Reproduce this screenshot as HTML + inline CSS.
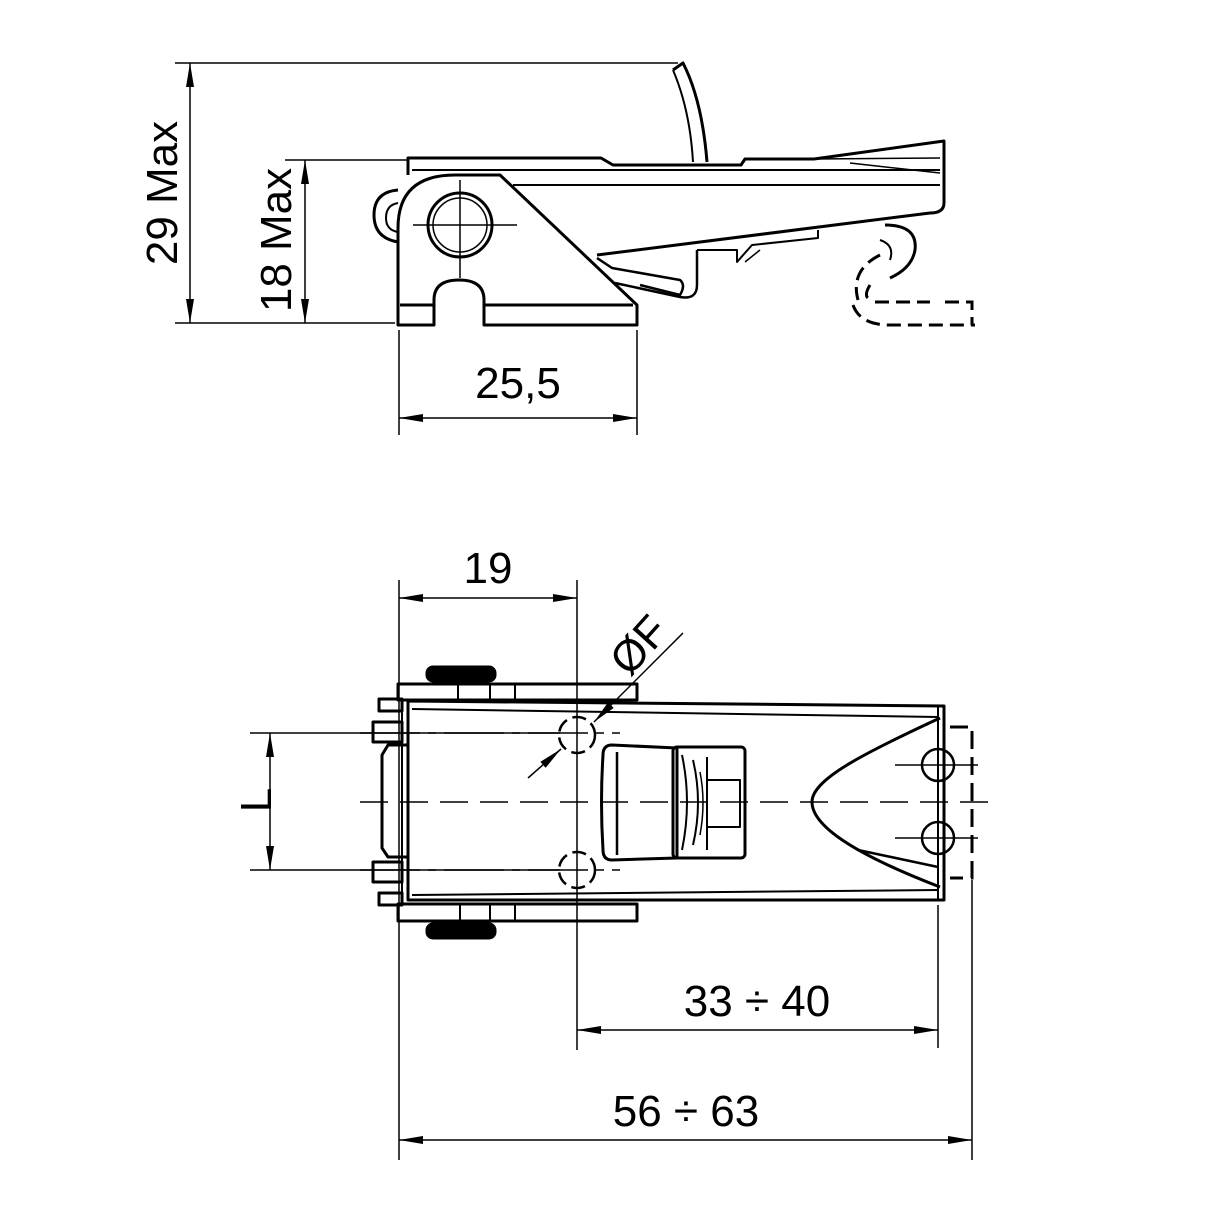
<!DOCTYPE html>
<html><head><meta charset="utf-8"><style>html,body{margin:0;padding:0;background:#fff}svg{display:block}</style></head>
<body>
<svg width="1217" height="1217" viewBox="0 0 1217 1217" xmlns="http://www.w3.org/2000/svg" font-family="Liberation Sans, sans-serif">
<defs>
<marker id="a" viewBox="0 0 24 8" refX="24" refY="4" markerWidth="24" markerHeight="8" markerUnits="userSpaceOnUse" orient="auto-start-reverse"><path d="M0,0 L24,4 L0,8 z" fill="#000"/></marker>
</defs>
<rect width="1217" height="1217" fill="#fff"/>
<g stroke="#000" fill="none">
<g stroke-width="1.5">
<line x1="175" y1="63" x2="678" y2="63"/>
<line x1="175" y1="323" x2="395" y2="323"/>
<line x1="285" y1="160" x2="408" y2="160"/>
<line x1="190" y1="63" x2="190" y2="323" marker-start="url(#a)" marker-end="url(#a)"/>
<line x1="305" y1="160" x2="305" y2="323" marker-start="url(#a)" marker-end="url(#a)"/>
<line x1="399" y1="330" x2="399" y2="435"/>
<line x1="637" y1="330" x2="637" y2="435"/>
<line x1="399" y1="418" x2="637" y2="418" marker-start="url(#a)" marker-end="url(#a)"/>
</g>
<g stroke-width="3" stroke-linejoin="round">
<path d="M398,325 L398,228 Q398,175 455,175 L500,175 L637,305 L637,325 L484,325 L484,300 Q484,280 459,280 Q434,280 434,300 L434,325 Z"/>
<line x1="400" y1="305" x2="434" y2="305"/>
<line x1="484" y1="305" x2="633" y2="305"/>
<circle cx="460" cy="225" r="32"/>
<circle cx="460" cy="225" r="27" stroke-width="1.5"/>
<path d="M398,190 Q374,192 374,215 Q374,238 398,242"/>
<path d="M398,203 Q386,205 386,218 Q386,230 398,232" stroke-width="2"/>
<path d="M408,175 L408,158 L601,158 L613,165 L741,165 L745,159 L814,159 L944,141 L944,203 Q944,213 930,213 L597,255"/>
<line x1="412" y1="170" x2="940" y2="170" stroke-width="2"/>
<line x1="513" y1="185" x2="940" y2="185" stroke-width="2"/>
<line x1="814" y1="159" x2="940" y2="158" stroke-width="1.5"/>
<line x1="850" y1="163" x2="940" y2="173" stroke-width="1.5"/>
<path d="M673,70 L683,63 Q702,100 707,162"/>
<path d="M673,70 Q690,110 693,162" stroke-width="2"/>
<path d="M597,258 L612,268 L680,280 Q686,285 680,295 L640,285" stroke-width="2.5"/>
<path d="M615,283 L680,297 Q697,300 697,285 L697,250" stroke-width="2.5"/>
<path d="M697,250 L737,250 L737,262 L752,245 L818,238 L818,230" stroke-width="2"/>
<path d="M745,262 L760,250" stroke-width="1.5"/>
<path d="M885,225 Q918,225 915,250 Q912,268 890,278" stroke-width="3"/>
<path d="M880,240 Q895,245 890,260" stroke-width="2"/>
</g>
<g stroke-width="3" stroke-dasharray="14,7">
<path d="M880,255 Q850,270 858,300"/>
<path d="M870,285 Q862,298 872,300"/>
<path d="M853,305 Q860,325 890,325 L975,325"/>
<path d="M875,302 L930,302"/>
<path d="M945,302 L972,302 L972,325"/>
</g>
<g stroke-width="1.5">
<line x1="413" y1="225" x2="517" y2="225"/>
<line x1="460" y1="180" x2="460" y2="278"/>
</g>

<g stroke-width="1.5">
<line x1="399" y1="580" x2="399" y2="1160"/>
<line x1="577" y1="580" x2="577" y2="1050"/>
<line x1="938" y1="905" x2="938" y2="1048"/>
<line x1="972" y1="880" x2="972" y2="1160"/>
<line x1="399" y1="598" x2="577" y2="598" marker-start="url(#a)" marker-end="url(#a)"/>
<line x1="577" y1="1030" x2="938" y2="1030" marker-start="url(#a)" marker-end="url(#a)"/>
<line x1="399" y1="1140" x2="972" y2="1140" marker-start="url(#a)" marker-end="url(#a)"/>
<line x1="250" y1="733" x2="560" y2="733"/>
<line x1="250" y1="870" x2="560" y2="870"/>
<line x1="270" y1="733" x2="270" y2="870" marker-start="url(#a)" marker-end="url(#a)"/>
<line x1="683" y1="633" x2="594" y2="722" marker-end="url(#a)"/>
<line x1="528" y1="778" x2="561" y2="749" marker-end="url(#a)"/>
<line x1="360" y1="733" x2="620" y2="733" stroke-dasharray="60,8,8,8"/>
<line x1="360" y1="870" x2="620" y2="870" stroke-dasharray="60,8,8,8"/>
<line x1="360" y1="802" x2="1000" y2="802" stroke-dasharray="28,12"/>
<line x1="895" y1="765" x2="978" y2="765"/>
<line x1="895" y1="838" x2="978" y2="838"/>
</g>
<g stroke-width="3" stroke-linejoin="round">
<rect x="398" y="684" width="239" height="16"/>
<rect x="398" y="904" width="239" height="17"/>
<g stroke-width="2"><line x1="458" y1="684" x2="458" y2="700"/><line x1="490" y1="684" x2="490" y2="700"/><line x1="515" y1="684" x2="515" y2="700"/>
<line x1="460" y1="904" x2="460" y2="921"/><line x1="490" y1="904" x2="490" y2="921"/><line x1="515" y1="904" x2="515" y2="921"/></g>
<rect x="427" y="667" width="68" height="14" rx="6" fill="#000"/>
<rect x="427" y="924" width="68" height="14" rx="6" fill="#000"/>
<path d="M408,701 L944,706 L944,900 L408,900 Z"/>
<line x1="412" y1="709" x2="938" y2="717" stroke-width="2"/>
<line x1="412" y1="895" x2="938" y2="890" stroke-width="2"/>
<line x1="938" y1="706" x2="938" y2="900" stroke-width="2"/>
<rect x="379" y="699" width="23" height="12"/>
<rect x="373" y="722" width="29" height="20"/>
<path d="M408,745 L388,745 L382,755 L382,848 L388,857 L408,857"/>
<rect x="373" y="862" width="29" height="20"/>
<rect x="379" y="893" width="23" height="12"/>
<line x1="402" y1="699" x2="402" y2="905" stroke-width="2"/>
<path d="M612,745 L677,748 L677,858 L612,860 Q603,860 603,850 Q600,802 603,755 Q603,745 612,745 Z"/>
<line x1="617" y1="752" x2="617" y2="855" stroke-width="2.5"/>
<rect x="673" y="747" width="72" height="111" rx="4"/>
<rect x="707" y="780" width="33" height="47" stroke-width="2"/>
<line x1="707" y1="757" x2="707" y2="850" stroke-width="2"/>
<path d="M682,755 Q692,802 682,850" stroke-width="2"/>
<path d="M693,760 Q703,802 693,845" stroke-width="2"/>
<path d="M700,772 Q706,802 700,835" stroke-width="1.5"/>
<path d="M940,718 C860,755 812,780 812,802 C812,830 870,860 940,887"/>
<line x1="858" y1="850" x2="938" y2="867" stroke-width="2.5"/>
<circle cx="938" cy="765" r="16" stroke-width="2.5"/>
<circle cx="938" cy="838" r="16" stroke-width="2.5"/>
</g>
<g stroke-width="3" stroke-dasharray="18,8">
<path d="M950,727 L972,727 L972,878 L950,878"/>
</g>
<g stroke-width="2.5" stroke-dasharray="14,6">
<circle cx="577" cy="735" r="18"/>
<circle cx="577" cy="870" r="18"/>
</g>
</g>
<g font-size="44" fill="#000" text-anchor="middle">
<text transform="translate(177,193) rotate(-90)">29 Max</text>
<text transform="translate(291,240) rotate(-90)">18 Max</text>
<text x="518" y="398">25,5</text>
<text x="488" y="583">19</text>
<text transform="translate(271,800) rotate(-90)">L</text>
<text transform="translate(650,655) rotate(-48)">ØF</text>
<text x="757" y="1016">33 ÷ 40</text>
<text x="686" y="1126">56 ÷ 63</text>
</g>
</svg>
</body></html>
